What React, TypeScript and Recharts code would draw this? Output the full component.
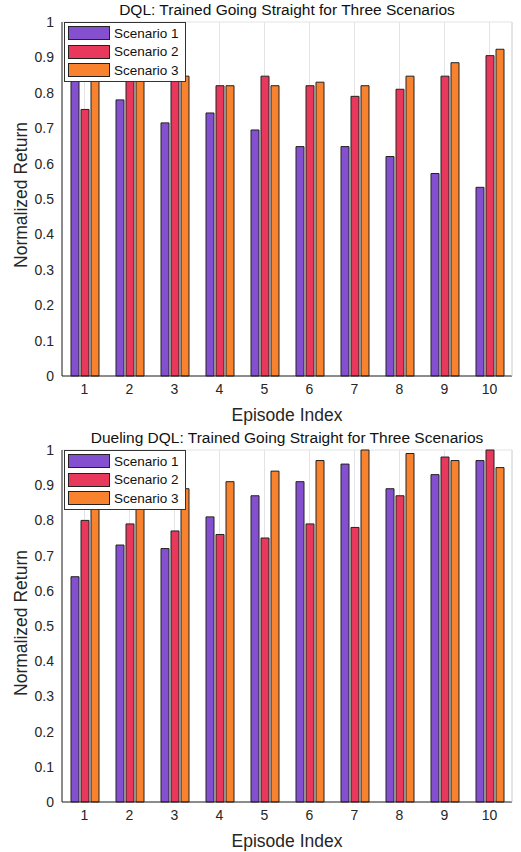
import React from "react";
import { BarChart, Bar, XAxis, YAxis, CartesianGrid } from "recharts";

const episodes = ["1", "2", "3", "4", "5", "6", "7", "8", "9", "10"];
const seriesNames = ["Scenario 1", "Scenario 2", "Scenario 3"];
const colors = ["#8450D0", "#E8385C", "#F8822E"];
const yTicks = [0, 0.1, 0.2, 0.3, 0.4, 0.5, 0.6, 0.7, 0.8, 0.9, 1];

// DQL
const dqlS1 = [0.88, 0.78, 0.715, 0.743, 0.695, 0.648, 0.648, 0.62, 0.572, 0.533];
const dqlS2 = [0.753, 0.86, 0.85, 0.82, 0.847, 0.82, 0.79, 0.81, 0.847, 0.905];
const dqlS3 = [0.9, 0.86, 0.847, 0.82, 0.82, 0.83, 0.82, 0.847, 0.885, 0.923];

// Dueling DQL
const duelS1 = [0.64, 0.73, 0.72, 0.81, 0.87, 0.91, 0.96, 0.89, 0.93, 0.97];
const duelS2 = [0.8, 0.79, 0.77, 0.76, 0.75, 0.79, 0.78, 0.87, 0.98, 1.0];
const duelS3 = [0.9, 0.9, 0.89, 0.91, 0.94, 0.97, 1.0, 0.99, 0.97, 0.95];

const FONT = "'Liberation Sans', Arial, Helvetica, sans-serif";
const W = 521;
const H = 426;

function buildRows(s1: number[], s2: number[], s3: number[]) {
  return episodes.map((ep, i) => ({ ep, s1: s1[i], s2: s2[i], s3: s3[i] }));
}

const LegendBox = ({ top }: { top: number }) => (
  <div
    style={{
      position: "absolute",
      left: 64,
      top,
      width: 117,
      background: "white",
      border: "1px solid #333",
      padding: "1px 0 1px 3px",
      fontFamily: FONT,
      fontSize: 13.5,
      color: "#111",
    }}
  >
    {seriesNames.map((n, i) => (
      <div key={n} style={{ display: "flex", alignItems: "center", height: 18.5 }}>
        <div
          style={{
            width: 40,
            height: 12,
            background: colors[i],
            border: "1px solid #222",
            marginRight: 4,
          }}
        />
        <span>{n}</span>
      </div>
    ))}
  </div>
);

function Panel({
  title,
  rows,
  top,
  marginTop,
}: {
  title: string;
  rows: any[];
  top: number;
  marginTop: number;
}) {
  const tick = { fontSize: 14, fill: "#262626", fontFamily: FONT };
  return (
    <div style={{ position: "absolute", left: 0, top, width: W, height: H }}>
      <BarChart
        width={W}
        height={H}
        data={rows}
        margin={{ top: marginTop, right: 0, left: 0, bottom: 0 }}
        barSize={8}
        barGap={2}
      >
        <CartesianGrid stroke="#e3e3e3" vertical={true} />
        <XAxis
          dataKey="ep"
          height={50}
          tick={tick}
          tickLine={false}
          axisLine={{ stroke: "#262626" }}
          label={{
            value: "Episode Index",
            position: "insideBottom",
            offset: 5,
            style: { fontSize: 17.5, fill: "#262626", fontFamily: FONT },
          }}
        />
        <YAxis
          yAxisId="l"
          width={62}
          domain={[0, 1]}
          ticks={yTicks}
          interval={0}
          tick={tick}
          tickLine={false}
          axisLine={{ stroke: "#262626" }}
        />
        <YAxis
          yAxisId="r"
          orientation="right"
          width={9}
          domain={[0, 1]}
          tick={false}
          tickLine={false}
          axisLine={{ stroke: "#d8d8d8" }}
        />
        {["s1", "s2", "s3"].map((k, i) => (
          <Bar
            key={k}
            yAxisId="l"
            dataKey={k}
            name={seriesNames[i]}
            fill={colors[i]}
            stroke="#222"
            strokeWidth={1}
            isAnimationActive={false}
          />
        ))}
      </BarChart>
      <div
        style={{
          position: "absolute",
          left: 62,
          width: 450,
          top: marginTop - 21,
          textAlign: "center",
          fontFamily: FONT,
          fontSize: 15.5,
          lineHeight: "18px",
          color: "#111",
          whiteSpace: "nowrap",
        }}
      >
        {title}
      </div>
      <div
        style={{
          position: "absolute",
          left: 21,
          top: marginTop + 173,
          transform: "translate(-50%, -50%) rotate(-90deg)",
          fontFamily: FONT,
          fontSize: 17.5,
          color: "#262626",
          whiteSpace: "nowrap",
        }}
      >
        Normalized Return
      </div>
      <LegendBox top={marginTop} />
    </div>
  );
}

export default function App() {
  return (
    <div
      style={{
        position: "absolute",
        left: 0,
        top: 0,
        width: W,
        height: 852,
        background: "white",
      }}
    >
      <Panel
        title="DQL: Trained Going Straight for Three Scenarios"
        rows={buildRows(dqlS1, dqlS2, dqlS3)}
        top={0}
        marginTop={22}
      />
      <Panel
        title="Dueling DQL: Trained Going Straight for Three Scenarios"
        rows={buildRows(duelS1, duelS2, duelS3)}
        top={426}
        marginTop={24}
      />
    </div>
  );
}
